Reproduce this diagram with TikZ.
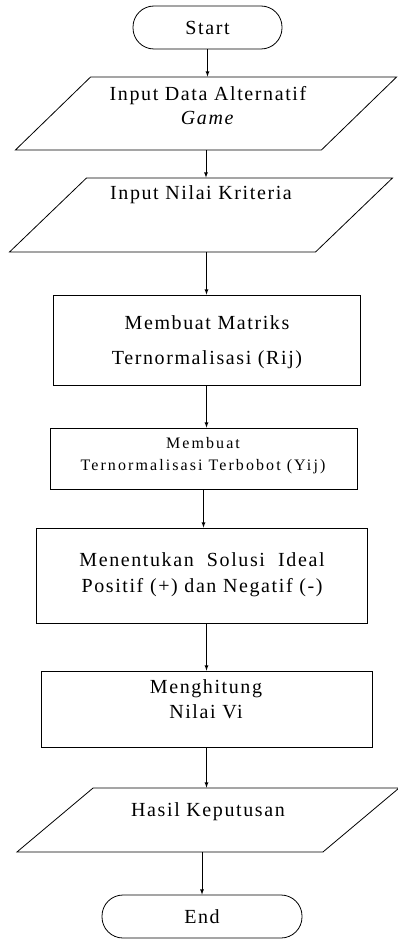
\documentclass[tikz,border=0pt]{standalone}
\usepackage{fontspec}
\setmainfont{Liberation Serif}[LetterSpace=8]
\usetikzlibrary{arrows}
\tikzset{
  term/.style={draw,rounded corners=21pt,minimum height=43pt},
  io/.style={draw,xslant=#1,transform shape,minimum width=306pt},
  proc/.style={draw},
  flow/.style={-latex,line width=0.8pt},
}
\begin{document}
\begin{tikzpicture}[x=1pt,y=1pt,line width=0.8pt,font=\fontsize{20}{24}\selectfont]
  \useasboundingbox (0,0) rectangle (397,-939);
  % shapes
  \node[term,minimum width=149pt](start)at(207.5,-27.5){};
  \node[io=1.03,minimum height=73pt](in1)at(206,-113.5){};
  \node[io=1.04,minimum height=74pt](in2)at(201,-215){};
  \node[proc,minimum width=307pt,minimum height=90pt](r1)at(206.5,-340){};
  \node[proc,minimum width=307pt,minimum height=61pt](r2)at(203.5,-458.5){};
  \node[proc,minimum width=331pt,minimum height=95pt](r3)at(201.5,-575.5){};
  \node[proc,minimum width=331pt,minimum height=76pt](r4)at(206.5,-709){};
  \node[io=1.19,minimum height=64pt](in3)at(208,-820){};
  \node[term,minimum width=200pt](end)at(202,-916.5){};
  % texts
  \node(tstart)at(start.center){Start};
  \node[align=center](tin1)at(208,-106){Input Data Alternatif\\\textit{Game}};
  \node(tin2)at(201,-195){Input Nilai Kriteria};
  \node[align=center](tr1)at(207,-342.5){Membuat Matriks\\[11pt]Ternormalisasi (Rij)};
  \node[align=center,font=\fontsize{16}{22}\selectfont\addfontfeatures{LetterSpace=13}](tr2)at(203,-456){Membuat\\Ternormalisasi Terbobot (Yij)};
  \node[align=center,font=\fontsize{20}{26}\selectfont](tr3)at(202,-575){Menentukan\ \ Solusi\ \ Ideal\\Positif (+) dan Negatif (-)};
  \node[align=center,font=\fontsize{20}{25}\selectfont](tr4)at(206,-699.5){Menghitung\\Nilai Vi};
  \node(tin3)at(208,-812){Hasil Keputusan};
  \node(tend)at(end.center){End};
  % connectors
  \draw[flow](start)--(start|-in1.north);
  \draw[flow](in1.center|-in1.south)--(in1.center|-in2.north);
  \draw[flow](r1.north|-in2.south)--(r1.north);
  \draw[flow](r1)--(r1|-r2.north);
  \draw[flow](r2)--(r2|-r3.north);
  \draw[flow](r4.north|-r3.south)--(r4.north);
  \draw[flow](r4)--(r4|-in3.north);
  \draw[flow](end.north|-in3.south)--(end.north);
\end{tikzpicture}
\end{document}
